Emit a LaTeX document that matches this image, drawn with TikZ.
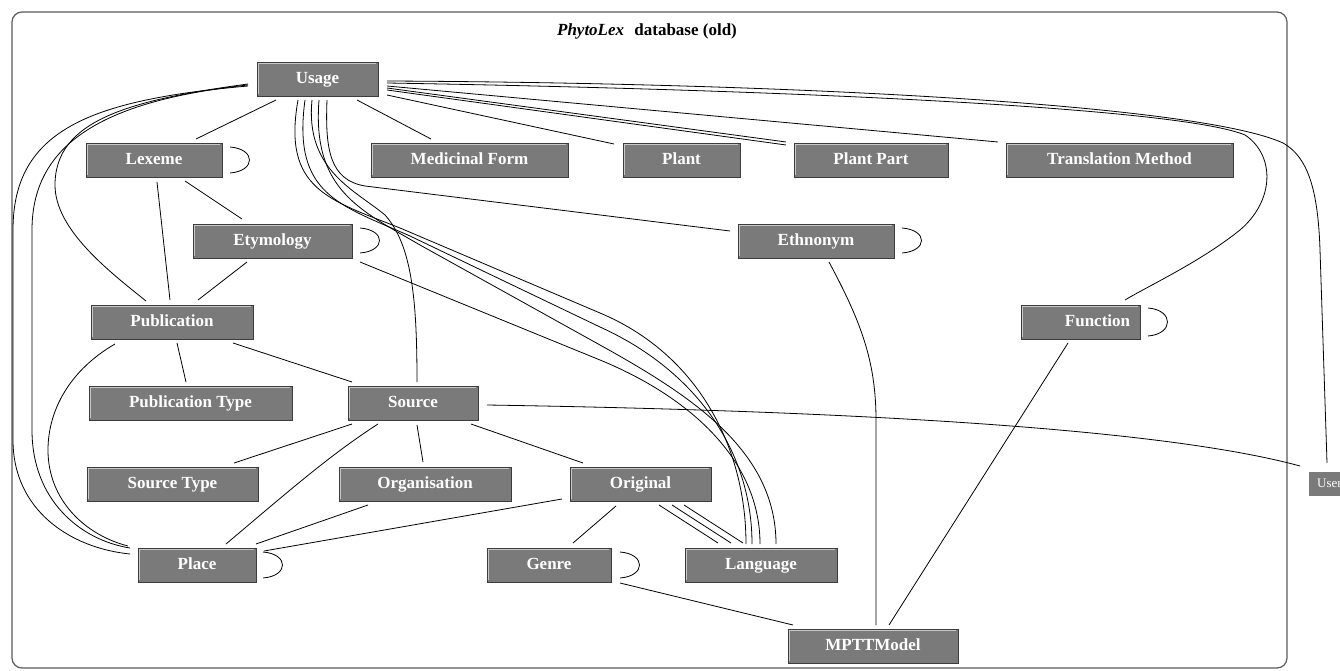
\documentclass[tikz,border=0pt]{standalone}
\usepackage{fontspec}
\setmainfont{Liberation Serif}
\definecolor{boxfill}{RGB}{122,122,122}
\definecolor{boxline}{RGB}{60,60,60}
\definecolor{boxlight}{RGB}{200,200,200}
\definecolor{framecol}{RGB}{90,90,90}
\tikzset{
  box/.style={draw=boxline, fill=boxfill, line width=0.9pt, text=white,
    font=\bfseries\fontsize{17}{20}\selectfont, minimum height=34pt, inner sep=0pt,
    text height=12pt, text depth=3.5pt,
    path picture={\draw[boxlight, line width=0.7pt]
      ([shift={(1.6,-1.6)}]path picture bounding box.south west) --
      ([shift={(1.6,1.6)}]path picture bounding box.north west) --
      ([shift={(-1.6,1.6)}]path picture bounding box.north east);}},
  link/.style={black, line width=0.8pt},
}
\begin{document}
\begin{tikzpicture}[x=1pt,y=-1pt]
\useasboundingbox (0,0) rectangle (1340,671);
\draw[framecol, line width=1.2pt, rounded corners=10pt] (12,12) rectangle (1287,668);
\node[font=\bfseries\fontsize{17}{20}\selectfont] (title) at (647,31) {\textit{PhytoLex}\hspace{6pt} database (old)};

% nodes
\node[box, minimum width=121pt] (Usage) at (317.5,79) {Usage};
\node[box, minimum width=136pt] (Lexeme) at (154,160) {Lexeme};
\node[box, minimum width=197pt] (MedForm) at (469.5,160) {Medicinal Form};
\node[box, minimum width=117pt] (Plant) at (681.5,160) {Plant};
\node[box, minimum width=154pt] (PlantPart) at (871,160) {Plant Part};
\node[box, minimum width=227pt] (TransMethod) at (1119.5,160) {Translation Method};
\node[box, minimum width=159pt] (Etymology) at (272.5,241) {Etymology};
\node[box, minimum width=156pt] (Ethnonym) at (816,241) {Ethnonym};
\node[box, minimum width=162pt] (Publication) at (172,322) {Publication};
\node[box, minimum width=119pt] (Function) at (1080.5,322) {\hspace*{34pt}Function};
\node[box, minimum width=203pt] (PubType) at (190.5,403) {Publication Type};
\node[box, minimum width=130pt] (Source) at (413,403) {Source};
\node[box, minimum width=171pt] (SourceType) at (172.5,484) {Source Type};
\node[box, minimum width=172pt] (Organisation) at (425,484) {Organisation};
\node[box, minimum width=141pt] (Original) at (640.5,484) {Original};
\node[box, minimum width=118pt] (Place) at (197,565) {Place};
\node[box, minimum width=124pt] (Genre) at (549,565) {Genre};
\node[box, minimum width=152pt] (Language) at (761,565) {Language};
\node[box, minimum width=170pt] (MPTT) at (873,646) {MPTTModel};
\node[box, draw=none, path picture={}, minimum width=40pt, minimum height=24pt, anchor=west,
      text height=9pt, text depth=2.5pt,
      font=\fontsize{13}{15}\selectfont] (User) at (1309,484) {User};

% straight links from Usage
\draw[link] ([shift={(-41.5,21)}]Usage.center) -- ([shift={(42,-21)}]Lexeme.center);
\draw[link] ([shift={(39.5,21)}]Usage.center) -- ([shift={(-38.5,-21)}]MedForm.center);
\draw[link] ([shift={(69.5,16)}]Usage.center) -- ([shift={(-67.5,-16)}]Plant.center);
\draw[link] ([shift={(69.5,9)}]Usage.center) -- ([shift={(-85,-18)}]PlantPart.center);
\draw[link] ([shift={(69.5,11)}]Usage.center) -- ([shift={(-85,-15)}]PlantPart.center);
\draw[link] ([shift={(69.5,7)}]Usage.center) -- ([shift={(-121.5,-18)}]TransMethod.center);

% long curves to the right
\draw[link] ([shift={(69.5,4)}]Usage.center) .. controls (800,90) and (1180,108) .. (1245,135)
  .. controls (1275,155) and (1275,200) .. (1240,230)
  .. controls (1200,262) and (1150,285) .. ([shift={(44.5,-22)}]Function.center);
\draw[link] ([shift={(69.5,2)}]Usage.center) .. controls (800,83) and (1200,105) .. (1283,143)
  .. controls (1308,157) and (1318,190) .. (1320,250) -- ([shift={(18,-21)}]User.west);

% Usage to Ethnonym, Source, Language
\draw[link] ([shift={(9.5,21)}]Usage.center) .. controls (325,150) and (330,180) .. (365,186)
  -- ([shift={(-86,-10)}]Ethnonym.center);
\draw[link] ([shift={(-5.5,21)}]Usage.center) .. controls (305,170) and (355,190) .. (385,215)
  .. controls (412,245) and (417,300) .. ([shift={(4,-21)}]Source.center);
\draw[link] ([shift={(-19.5,21)}]Usage.center) .. controls (282,190) and (330,200) .. (400,228)
  -- (600,313) .. controls (700,355) and (746,450) .. ([shift={(-15,-21)}]Language.center);
\draw[link] ([shift={(-12.5,21)}]Usage.center) .. controls (292,195) and (340,205) .. (410,236)
  -- (600,327) .. controls (695,370) and (752,450) .. ([shift={(-9,-21)}]Language.center);
\draw[link] ([shift={(1.5,21)}]Usage.center) .. controls (312,190) and (360,210) .. (420,245)
  -- (600,345) .. controls (690,395) and (776,450) .. ([shift={(15,-21)}]Language.center);
\draw[link] ([shift={(87.5,21)}]Etymology.center) -- (600,360)
  .. controls (690,397) and (760,460) .. ([shift={(-1,-21)}]Language.center);

% left curves
\draw[link] ([shift={(-69.5,7)}]Usage.center) .. controls (90,100) and (13,130) .. (13,230)
  -- (13,440) .. controls (13,510) and (70,548) .. ([shift={(-67,-11)}]Place.center);
\draw[link] ([shift={(-69.5,6)}]Usage.center) .. controls (110,100) and (32,140) .. (32,230)
  -- (32,430) .. controls (32,500) and (80,540) .. ([shift={(-67,-17)}]Place.center);
\draw[link] ([shift={(-69.5,5)}]Usage.center) .. controls (130,100) and (55,120) .. (55,185)
  .. controls (55,230) and (110,272) .. ([shift={(-26,-21)}]Publication.center);
\draw[link] ([shift={(-57,22)}]Publication.center) .. controls (70,370) and (48,410) .. (48,450)
  .. controls (48,500) and (85,535) .. ([shift={(-69,-19)}]Place.center);

% straight links
\draw[link] ([shift={(3,22)}]Lexeme.center) -- ([shift={(-2,-22)}]Publication.center);
\draw[link] ([shift={(31,21)}]Lexeme.center) -- ([shift={(-30.5,-22)}]Etymology.center);
\draw[link] ([shift={(-25.5,21)}]Etymology.center) -- ([shift={(26,-22)}]Publication.center);
\draw[link] ([shift={(5,21)}]Publication.center) -- ([shift={(-4.5,-21)}]PubType.center);
\draw[link] ([shift={(61,21)}]Publication.center) -- ([shift={(-61,-21)}]Source.center);
\draw[link] ([shift={(-61,21)}]Source.center) -- ([shift={(61.5,-21)}]SourceType.center);
\draw[link] ([shift={(-35,21)}]Source.center) .. controls (330,455) and (290,490) .. ([shift={(29,-21)}]Place.center);
\draw[link] ([shift={(4,22)}]Source.center) -- ([shift={(-2,-22)}]Organisation.center);
\draw[link] ([shift={(58,21)}]Source.center) -- ([shift={(-57.5,-21)}]Original.center);
\draw[link] ([shift={(-57,21)}]Organisation.center) -- ([shift={(59,-21)}]Place.center);
\draw[link] ([shift={(-78.5,15)}]Original.center) -- ([shift={(67,-14)}]Place.center);
\draw[link] ([shift={(-24.5,22)}]Original.center) -- ([shift={(24,-22)}]Genre.center);
\draw[link] ([shift={(18.5,21)}]Original.center) -- ([shift={(-43,-22)}]Language.center);
\draw[link] ([shift={(31.5,21)}]Original.center) -- ([shift={(-30,-22)}]Language.center);
\draw[link] ([shift={(43.5,21)}]Original.center) -- ([shift={(-18,-22)}]Language.center);
\draw[link] ([shift={(71,18)}]Genre.center) -- ([shift={(-80,-21)}]MPTT.center);
\draw[link] ([shift={(13,21)}]Ethnonym.center) .. controls (860,320) and (876,360) .. (876,420)
  -- ([shift={(3,-21)}]MPTT.center);
\draw[link] ([shift={(-12.5,21)}]Function.center) -- ([shift={(16,-21)}]MPTT.center);
\draw[link] ([shift={(74,2)}]Source.center) .. controls (800,410) and (1150,425) .. ([shift={(-9,-18)}]User.west);

% self loops
\draw[link] ([shift={(76,-13)}]Lexeme.center) .. controls +(26,2) and +(26,-2) .. ([shift={(76,13)}]Lexeme.center);
\draw[link] ([shift={(87.5,-13)}]Etymology.center) .. controls +(26,2) and +(26,-2) .. ([shift={(87.5,12)}]Etymology.center);
\draw[link] ([shift={(86,-13)}]Ethnonym.center) .. controls +(26,2) and +(26,-2) .. ([shift={(86,12)}]Ethnonym.center);
\draw[link] ([shift={(67.5,-14)}]Function.center) .. controls +(26,2) and +(26,-2) .. ([shift={(67.5,14)}]Function.center);
\draw[link] ([shift={(66,-13)}]Place.center) .. controls +(26,2) and +(26,-2) .. ([shift={(66,13)}]Place.center);
\draw[link] ([shift={(71,-13)}]Genre.center) .. controls +(26,2) and +(26,-2) .. ([shift={(71,13)}]Genre.center);
\end{tikzpicture}
\end{document}
